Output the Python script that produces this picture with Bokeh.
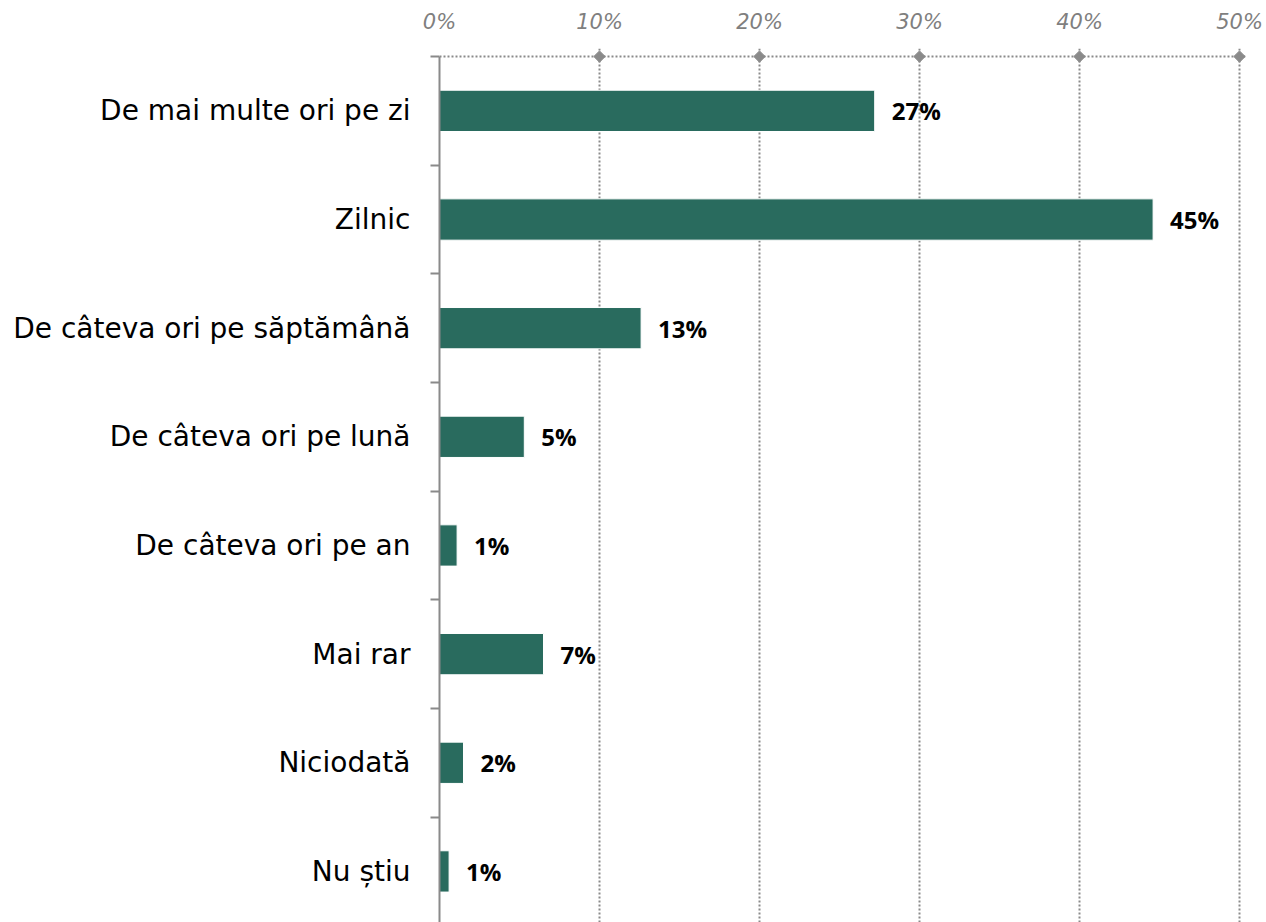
import math
from bokeh.plotting import figure
from bokeh.models import (Range1d, LinearAxis, FixedTicker, CustomJSTickFormatter,
                          Span, ColumnDataSource, Grid)
from bokeh.core.properties import value
from bokeh.embed import file_html
from bokeh.resources import INLINE

categories = ["De mai multe ori pe zi", "Zilnic", "De câteva ori pe săptămână",
              "De câteva ori pe lună", "De câteva ori pe an", "Mai rar",
              "Niciodată", "Nu știu"]
values = [27.2, 44.6, 12.6, 5.3, 1.1, 6.5, 1.5, 0.6]
value_labels = ["27%", "45%", "13%", "5%", "1%", "7%", "2%", "1%"]
x_ticks = [0, 10, 20, 30, 40, 50]
x_tick_labels = ["0%", "10%", "20%", "30%", "40%", "50%"]

BAR = "#296b5e"
GRID = "#8a8a8a"

n = len(categories)
pos = list(range(n))

p = figure(width=1266, height=922, output_backend="svg", toolbar_location=None,
           x_range=Range1d(0, 50.375), y_range=Range1d(start=7.47, end=-0.574),
           x_axis_location=None, y_axis_location=None,
           min_border_left=439, min_border_right=21, min_border_top=48,
           min_border_bottom=0)
p.outline_line_color = None
p.background_fill_color = "white"
p.border_fill_color = "white"
p.grid.visible = False

# top axis with percentage labels
xgrid_axis = LinearAxis(ticker=FixedTicker(ticks=x_ticks),
                        major_label_overrides={t: l for t, l in zip(x_ticks, x_tick_labels)},
                        axis_line_color=None, major_tick_out=0, major_tick_in=0,
                        major_label_standoff=15,
                        major_label_text_font="DejaVu Sans",
                        major_label_text_font_style="italic",
                        major_label_text_font_size="21px",
                        major_label_text_color="#7f7f7f")
p.add_layout(xgrid_axis, "above")
p.add_layout(Grid(dimension=0, ticker=xgrid_axis.ticker, grid_line_color=GRID,
                  grid_line_width=2, grid_line_dash="2 2"))

# top dotted baseline
p.add_layout(Span(location=-0.5, dimension="width", line_color=GRID,
                  line_width=2, line_dash="2 2"))

# left axis with boundary ticks
tick_axis = LinearAxis(ticker=FixedTicker(ticks=[i - 0.5 for i in pos]),
                       formatter=CustomJSTickFormatter(code="return ''"),
                       bounds=(-0.5, n - 0.5),
                       axis_line_color=GRID, axis_line_width=2,
                       major_tick_line_color=GRID, major_tick_line_width=2,
                       major_tick_out=9, major_tick_in=0, minor_tick_line_color=None,
                       major_label_standoff=0)
p.add_layout(tick_axis, "left")

label_axis = LinearAxis(ticker=FixedTicker(ticks=pos),
                        major_label_overrides={i: c for i, c in zip(pos, categories)},
                        axis_line_color=None, major_tick_out=0, major_tick_in=0,
                        minor_tick_line_color=None, major_label_standoff=20,
                        major_label_text_font="DejaVu Sans",
                        major_label_text_font_size="28px",
                        major_label_text_color="black")
p.add_layout(label_axis, "left")

src = ColumnDataSource(dict(y=pos, v=values, lab=value_labels))
p.hbar(y="y", right="v", left=0, height=0.38, source=src, fill_color=BAR,
       line_color="white", line_width=1)

p.text(x="v", y="y", text="lab", source=src, x_offset=17,
       text_baseline="middle", text_align="left",
       text_font=value("Open Sans"), text_font_style="bold",
       text_font_size="24px", text_color="black")

# diamonds on the top line
dsrc = ColumnDataSource(dict(x=x_ticks[1:], y=[-0.5] * (len(x_ticks) - 1)))
p.scatter(x="x", y="y", source=dsrc, marker="square", angle=math.pi / 4, size=8,
          fill_color=GRID, line_color=GRID)

open("out.html", "w").write(file_html(p, INLINE))
